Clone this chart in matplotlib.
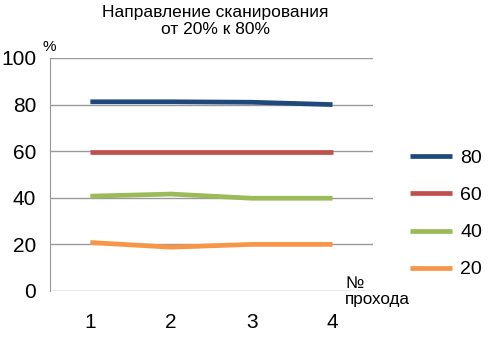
import matplotlib.pyplot as plt

plt.rcParams['font.family'] = ['Liberation Sans', 'DejaVu Sans']

# passes and measured levels for each target value
passes = [1, 2, 3, 4]
series_names = ["80", "60", "40", "20"]
level_80 = [81.2, 81.2, 81.0, 80.0]
level_60 = [59.5, 59.5, 59.5, 59.5]
level_40 = [40.7, 41.6, 39.8, 39.8]
level_20 = [20.8, 18.8, 20.0, 20.0]
colors = ["#1F497D", "#C0504D", "#9BBB59", "#F79646"]

fig = plt.figure(figsize=(4.9, 3.37), dpi=100)
ax = fig.add_axes([0.102, 0.1365, 0.659, 0.6915])

for vals, name, c in zip([level_80, level_60, level_40, level_20], series_names, colors):
    ax.plot(passes, vals, color=c, lw=3.4, label=name, solid_capstyle="butt")

ax.set_xlim(0.5, 4.5)
ax.set_ylim(0, 100)
ax.set_yticks([0, 20, 40, 60, 80, 100])
ax.set_xticks(passes)
ax.yaxis.grid(True, color="#999999", lw=1)
ax.set_axisbelow(True)
for s in ["top", "right", "bottom"]:
    ax.spines[s].set_visible(False)
ax.spines["left"].set_color("#999999")
ax.tick_params(axis="both", length=0, labelsize=15)
ax.tick_params(axis="y", pad=10)
ax.tick_params(axis="x", pad=16)

fig.text(0.44, 0.985, "Направление сканирования\nот 20% к 80%", ha="center", va="top",
         fontsize=12.5, linespacing=1.15)
fig.text(0.086, 0.84, "%", ha="left", va="bottom", fontsize=11)
fig.text(0.704, 0.135, "№\nпрохода", ha="left", va="center", fontsize=12.3, linespacing=1.1)

fig.legend(loc="center left", bbox_to_anchor=(0.80, 0.365), frameon=False, fontsize=14,
           handlelength=2.2, handletextpad=0.4, labelspacing=1.0)

fig.savefig("out.png", dpi=100)
